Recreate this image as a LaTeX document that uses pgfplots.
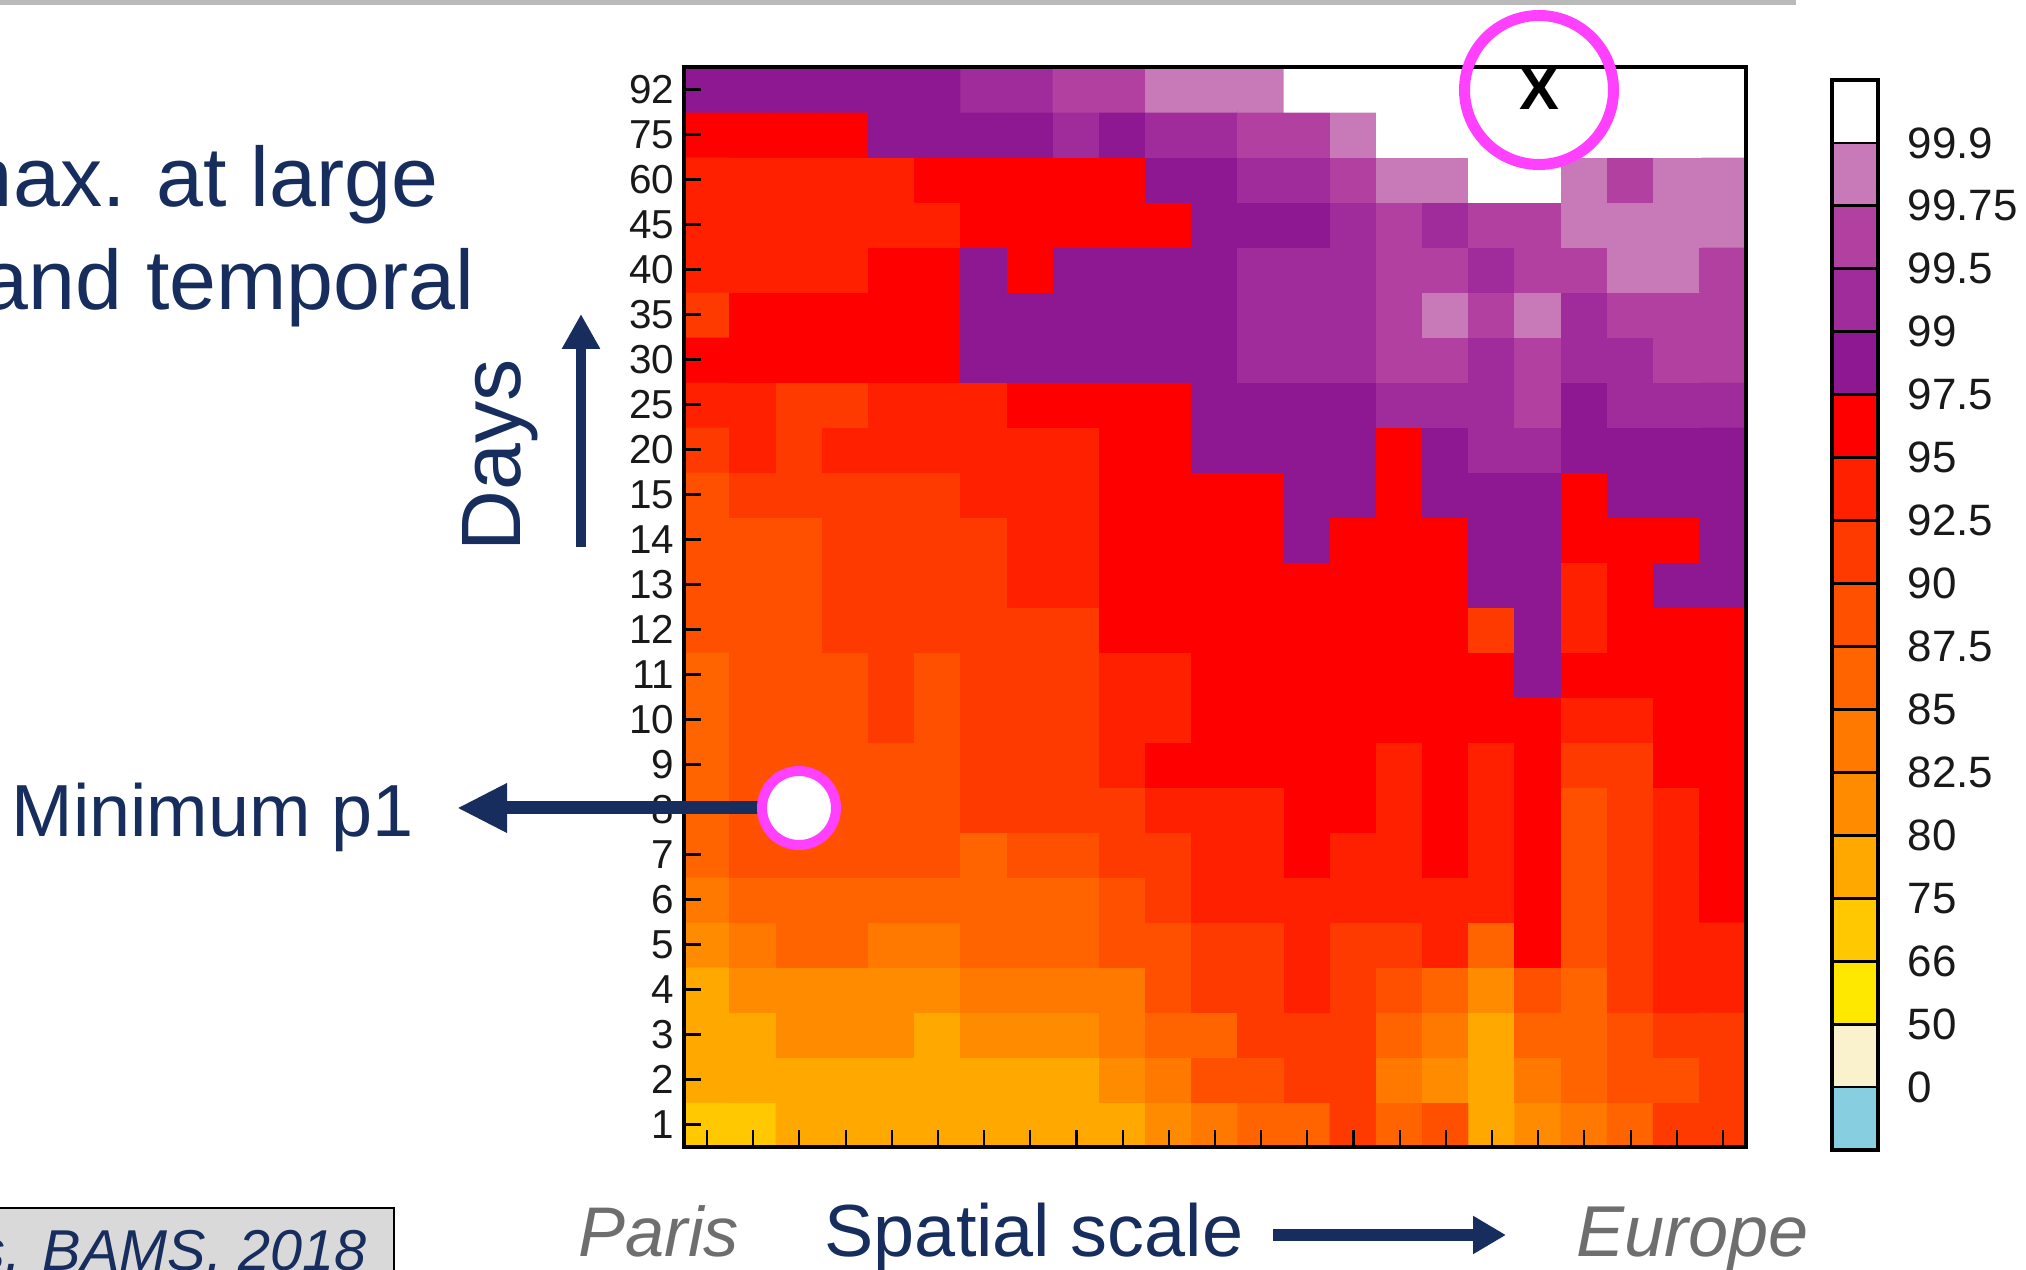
\documentclass[border=0pt]{standalone}
\usepackage{fontspec}
\setmainfont{Liberation Sans}
\usepackage{pgfplots}
\usepackage{pgfplotstable}
\pgfplotsset{compat=1.18}
\usetikzlibrary{arrows.meta}
\definecolor{navy}{RGB}{22,45,94}
\definecolor{ring}{RGB}{255,64,255}
\definecolor{lbl}{RGB}{110,110,110}
\pgfplotsset{colormap={bins}{rgb255=(135,206,224) rgb255=(250,242,205) rgb255=(255,232,0) rgb255=(255,200,0) rgb255=(255,168,0) rgb255=(255,140,0) rgb255=(255,120,0) rgb255=(255,100,0) rgb255=(255,80,0) rgb255=(255,58,0) rgb255=(255,32,0) rgb255=(255,0,0) rgb255=(142,24,146) rgb255=(160,44,156) rgb255=(178,64,160) rgb255=(200,122,184) rgb255=(255,255,255)}}

\pgfplotstableread[row sep=\\]{
x y c\\
0 0 3\\ 1 0 3\\ 2 0 4\\ 3 0 4\\ 4 0 4\\ 5 0 4\\ 6 0 4\\ 7 0 4\\ 8 0 4\\ 9 0 4\\ 10 0 5\\ 11 0 6\\ 12 0 7\\ 13 0 7\\ 14 0 9\\ 15 0 7\\ 16 0 8\\ 17 0 4\\ 18 0 5\\ 19 0 6\\ 20 0 7\\ 21 0 9\\ 22 0 9\\
0 1 4\\ 1 1 4\\ 2 1 4\\ 3 1 4\\ 4 1 4\\ 5 1 4\\ 6 1 4\\ 7 1 4\\ 8 1 4\\ 9 1 5\\ 10 1 6\\ 11 1 8\\ 12 1 8\\ 13 1 9\\ 14 1 9\\ 15 1 6\\ 16 1 5\\ 17 1 4\\ 18 1 6\\ 19 1 7\\ 20 1 8\\ 21 1 8\\ 22 1 9\\
0 2 4\\ 1 2 4\\ 2 2 5\\ 3 2 5\\ 4 2 5\\ 5 2 4\\ 6 2 5\\ 7 2 5\\ 8 2 5\\ 9 2 6\\ 10 2 7\\ 11 2 7\\ 12 2 9\\ 13 2 9\\ 14 2 9\\ 15 2 7\\ 16 2 6\\ 17 2 4\\ 18 2 7\\ 19 2 7\\ 20 2 8\\ 21 2 9\\ 22 2 9\\
0 3 4\\ 1 3 5\\ 2 3 5\\ 3 3 5\\ 4 3 5\\ 5 3 5\\ 6 3 6\\ 7 3 6\\ 8 3 6\\ 9 3 6\\ 10 3 8\\ 11 3 9\\ 12 3 9\\ 13 3 10\\ 14 3 9\\ 15 3 8\\ 16 3 7\\ 17 3 5\\ 18 3 8\\ 19 3 7\\ 20 3 9\\ 21 3 10\\ 22 3 10\\
0 4 5\\ 1 4 6\\ 2 4 7\\ 3 4 7\\ 4 4 6\\ 5 4 6\\ 6 4 7\\ 7 4 7\\ 8 4 7\\ 9 4 8\\ 10 4 8\\ 11 4 9\\ 12 4 9\\ 13 4 10\\ 14 4 9\\ 15 4 9\\ 16 4 10\\ 17 4 7\\ 18 4 11\\ 19 4 8\\ 20 4 9\\ 21 4 10\\ 22 4 10\\
0 5 6\\ 1 5 7\\ 2 5 7\\ 3 5 7\\ 4 5 7\\ 5 5 7\\ 6 5 7\\ 7 5 7\\ 8 5 7\\ 9 5 8\\ 10 5 9\\ 11 5 10\\ 12 5 10\\ 13 5 10\\ 14 5 10\\ 15 5 10\\ 16 5 10\\ 17 5 10\\ 18 5 11\\ 19 5 8\\ 20 5 9\\ 21 5 10\\ 22 5 11\\
0 6 7\\ 1 6 8\\ 2 6 8\\ 3 6 8\\ 4 6 8\\ 5 6 8\\ 6 6 7\\ 7 6 8\\ 8 6 8\\ 9 6 9\\ 10 6 9\\ 11 6 10\\ 12 6 10\\ 13 6 11\\ 14 6 10\\ 15 6 10\\ 16 6 11\\ 17 6 10\\ 18 6 11\\ 19 6 8\\ 20 6 9\\ 21 6 10\\ 22 6 11\\
0 7 7\\ 1 7 8\\ 2 7 8\\ 3 7 8\\ 4 7 8\\ 5 7 8\\ 6 7 9\\ 7 7 9\\ 8 7 9\\ 9 7 9\\ 10 7 10\\ 11 7 10\\ 12 7 10\\ 13 7 11\\ 14 7 11\\ 15 7 10\\ 16 7 11\\ 17 7 10\\ 18 7 11\\ 19 7 8\\ 20 7 9\\ 21 7 10\\ 22 7 11\\
0 8 7\\ 1 8 8\\ 2 8 8\\ 3 8 8\\ 4 8 8\\ 5 8 8\\ 6 8 9\\ 7 8 9\\ 8 8 9\\ 9 8 10\\ 10 8 11\\ 11 8 11\\ 12 8 11\\ 13 8 11\\ 14 8 11\\ 15 8 10\\ 16 8 11\\ 17 8 10\\ 18 8 11\\ 19 8 9\\ 20 8 9\\ 21 8 11\\ 22 8 11\\
0 9 7\\ 1 9 8\\ 2 9 8\\ 3 9 8\\ 4 9 9\\ 5 9 8\\ 6 9 9\\ 7 9 9\\ 8 9 9\\ 9 9 10\\ 10 9 10\\ 11 9 11\\ 12 9 11\\ 13 9 11\\ 14 9 11\\ 15 9 11\\ 16 9 11\\ 17 9 11\\ 18 9 11\\ 19 9 10\\ 20 9 10\\ 21 9 11\\ 22 9 11\\
0 10 7\\ 1 10 8\\ 2 10 8\\ 3 10 8\\ 4 10 9\\ 5 10 8\\ 6 10 9\\ 7 10 9\\ 8 10 9\\ 9 10 10\\ 10 10 10\\ 11 10 11\\ 12 10 11\\ 13 10 11\\ 14 10 11\\ 15 10 11\\ 16 10 11\\ 17 10 11\\ 18 10 12\\ 19 10 11\\ 20 10 11\\ 21 10 11\\ 22 10 11\\
0 11 8\\ 1 11 8\\ 2 11 8\\ 3 11 9\\ 4 11 9\\ 5 11 9\\ 6 11 9\\ 7 11 9\\ 8 11 9\\ 9 11 11\\ 10 11 11\\ 11 11 11\\ 12 11 11\\ 13 11 11\\ 14 11 11\\ 15 11 11\\ 16 11 11\\ 17 11 9\\ 18 11 12\\ 19 11 10\\ 20 11 11\\ 21 11 11\\ 22 11 11\\
0 12 8\\ 1 12 8\\ 2 12 8\\ 3 12 9\\ 4 12 9\\ 5 12 9\\ 6 12 9\\ 7 12 10\\ 8 12 10\\ 9 12 11\\ 10 12 11\\ 11 12 11\\ 12 12 11\\ 13 12 11\\ 14 12 11\\ 15 12 11\\ 16 12 11\\ 17 12 12\\ 18 12 12\\ 19 12 10\\ 20 12 11\\ 21 12 12\\ 22 12 12\\
0 13 8\\ 1 13 8\\ 2 13 8\\ 3 13 9\\ 4 13 9\\ 5 13 9\\ 6 13 9\\ 7 13 10\\ 8 13 10\\ 9 13 11\\ 10 13 11\\ 11 13 11\\ 12 13 11\\ 13 13 12\\ 14 13 11\\ 15 13 11\\ 16 13 11\\ 17 13 12\\ 18 13 12\\ 19 13 11\\ 20 13 11\\ 21 13 11\\ 22 13 12\\
0 14 8\\ 1 14 9\\ 2 14 9\\ 3 14 9\\ 4 14 9\\ 5 14 9\\ 6 14 10\\ 7 14 10\\ 8 14 10\\ 9 14 11\\ 10 14 11\\ 11 14 11\\ 12 14 11\\ 13 14 12\\ 14 14 12\\ 15 14 11\\ 16 14 12\\ 17 14 12\\ 18 14 12\\ 19 14 11\\ 20 14 12\\ 21 14 12\\ 22 14 12\\
0 15 9\\ 1 15 10\\ 2 15 9\\ 3 15 10\\ 4 15 10\\ 5 15 10\\ 6 15 10\\ 7 15 10\\ 8 15 10\\ 9 15 11\\ 10 15 11\\ 11 15 12\\ 12 15 12\\ 13 15 12\\ 14 15 12\\ 15 15 11\\ 16 15 12\\ 17 15 13\\ 18 15 13\\ 19 15 12\\ 20 15 12\\ 21 15 12\\ 22 15 12\\
0 16 10\\ 1 16 10\\ 2 16 9\\ 3 16 9\\ 4 16 10\\ 5 16 10\\ 6 16 10\\ 7 16 11\\ 8 16 11\\ 9 16 11\\ 10 16 11\\ 11 16 12\\ 12 16 12\\ 13 16 12\\ 14 16 12\\ 15 16 13\\ 16 16 13\\ 17 16 13\\ 18 16 14\\ 19 16 12\\ 20 16 13\\ 21 16 13\\ 22 16 13\\
0 17 11\\ 1 17 11\\ 2 17 11\\ 3 17 11\\ 4 17 11\\ 5 17 11\\ 6 17 12\\ 7 17 12\\ 8 17 12\\ 9 17 12\\ 10 17 12\\ 11 17 12\\ 12 17 13\\ 13 17 13\\ 14 17 13\\ 15 17 14\\ 16 17 14\\ 17 17 13\\ 18 17 14\\ 19 17 13\\ 20 17 13\\ 21 17 14\\ 22 17 14\\
0 18 9\\ 1 18 11\\ 2 18 11\\ 3 18 11\\ 4 18 11\\ 5 18 11\\ 6 18 12\\ 7 18 12\\ 8 18 12\\ 9 18 12\\ 10 18 12\\ 11 18 12\\ 12 18 13\\ 13 18 13\\ 14 18 13\\ 15 18 14\\ 16 18 15\\ 17 18 14\\ 18 18 15\\ 19 18 13\\ 20 18 14\\ 21 18 14\\ 22 18 14\\
0 19 10\\ 1 19 10\\ 2 19 10\\ 3 19 10\\ 4 19 11\\ 5 19 11\\ 6 19 12\\ 7 19 11\\ 8 19 12\\ 9 19 12\\ 10 19 12\\ 11 19 12\\ 12 19 13\\ 13 19 13\\ 14 19 13\\ 15 19 14\\ 16 19 14\\ 17 19 13\\ 18 19 14\\ 19 19 14\\ 20 19 15\\ 21 19 15\\ 22 19 14\\
0 20 10\\ 1 20 10\\ 2 20 10\\ 3 20 10\\ 4 20 10\\ 5 20 10\\ 6 20 11\\ 7 20 11\\ 8 20 11\\ 9 20 11\\ 10 20 11\\ 11 20 12\\ 12 20 12\\ 13 20 12\\ 14 20 13\\ 15 20 14\\ 16 20 13\\ 17 20 14\\ 18 20 14\\ 19 20 15\\ 20 20 15\\ 21 20 15\\ 22 20 15\\
0 21 10\\ 1 21 10\\ 2 21 10\\ 3 21 10\\ 4 21 10\\ 5 21 11\\ 6 21 11\\ 7 21 11\\ 8 21 11\\ 9 21 11\\ 10 21 12\\ 11 21 12\\ 12 21 13\\ 13 21 13\\ 14 21 14\\ 15 21 15\\ 16 21 15\\ 17 21 16\\ 18 21 16\\ 19 21 15\\ 20 21 14\\ 21 21 15\\ 22 21 15\\
0 22 11\\ 1 22 11\\ 2 22 11\\ 3 22 11\\ 4 22 12\\ 5 22 12\\ 6 22 12\\ 7 22 12\\ 8 22 13\\ 9 22 12\\ 10 22 13\\ 11 22 13\\ 12 22 14\\ 13 22 14\\ 14 22 15\\ 15 22 16\\ 16 22 16\\ 17 22 16\\ 18 22 16\\ 19 22 16\\ 20 22 16\\ 21 22 16\\ 22 22 16\\
0 23 12\\ 1 23 12\\ 2 23 12\\ 3 23 12\\ 4 23 12\\ 5 23 12\\ 6 23 13\\ 7 23 13\\ 8 23 14\\ 9 23 14\\ 10 23 15\\ 11 23 15\\ 12 23 15\\ 13 23 16\\ 14 23 16\\ 15 23 16\\ 16 23 16\\ 17 23 16\\ 18 23 16\\ 19 23 16\\ 20 23 16\\ 21 23 16\\ 22 23 16\\
}\heat

\pgfplotstableread[row sep=\\]{
x y c\\
0 0 0\\ 1 0 0\\ 0 1 1\\ 1 1 1\\ 0 2 2\\ 1 2 2\\ 0 3 3\\ 1 3 3\\ 0 4 4\\ 1 4 4\\ 0 5 5\\ 1 5 5\\ 0 6 6\\ 1 6 6\\ 0 7 7\\ 1 7 7\\ 0 8 8\\ 1 8 8\\ 0 9 9\\ 1 9 9\\ 0 10 10\\ 1 10 10\\ 0 11 11\\ 1 11 11\\ 0 12 12\\ 1 12 12\\ 0 13 13\\ 1 13 13\\ 0 14 14\\ 1 14 14\\ 0 15 15\\ 1 15 15\\ 0 16 16\\ 1 16 16\\
}\cbar

\begin{document}
\begin{tikzpicture}
\useasboundingbox (0,0) rectangle (20.26,12.70);
\fill[black!27] (0,12.65) rectangle (17.96,12.70);

\begin{axis}[
  at={(6.84cm,1.23cm)}, anchor=south west,
  width=10.62cm, height=10.80cm, scale only axis,
  xmin=-0.5, xmax=22.5, ymin=-0.5, ymax=23.5,
  y dir=normal,
  colormap name=bins, colormap access=direct,
  xtick={0,...,22}, xticklabels={},
  ytick={0,...,23},
  yticklabels={1,2,3,4,5,6,7,8,9,10,11,12,13,14,15,20,25,30,35,40,45,60,75,92},
  tick align=inside, major tick length=0.17cm,
  tick pos=left,
  tick style={black, line width=0.6pt},
  axis line style={black, line width=1pt},
  yticklabel style={font=\fontsize{11.5}{12}\selectfont, inner xsep=0.09cm, text=black!90},
  axis on top,
]
\addplot[matrix plot*, mesh/cols=23, point meta=explicit] table[meta=c]{\heat};
\end{axis}

\begin{axis}[
  at={(18.32cm,1.20cm)}, anchor=south west,
  width=0.46cm, height=10.70cm, scale only axis,
  xmin=-0.5, xmax=1.5, ymin=-0.5, ymax=16.5,
  y dir=normal,
  colormap name=bins, colormap access=direct,
  xtick=\empty,
  ytick={0.5,1.5,...,15.5},
  yticklabels={0,50,66,75,80,82.5,85,87.5,90,92.5,95,97.5,99,99.5,99.75,99.9},
  yticklabel pos=right,
  major tick length=0pt,
  ymajorgrids, grid style={black, line width=0.8pt},
  axis line style={black, line width=1pt},
  yticklabel style={font=\fontsize{12.5}{13}\selectfont, inner xsep=0.29cm, text=black!90},
  axis on top,
]
\addplot[matrix plot*, mesh/cols=2, point meta=explicit] table[meta=c]{\cbar};
\end{axis}

\node[anchor=base east, inner sep=0pt, text=navy, font=\fontsize{24}{28}\selectfont] at (4.39,10.63) {max. at large};
\node[anchor=base east, inner sep=0pt, text=navy, font=\fontsize{24}{28}\selectfont] at (4.75,9.60) {and temporal};
\node[rotate=90, anchor=base, inner sep=0pt, text=navy, font=\fontsize{24}{28}\selectfont] at (5.20,8.15) {Days};
\draw[navy, line width=0.10cm, -{Triangle[width=0.36cm,length=0.35cm]}] (5.81,7.23) -- (5.81,9.56);

\draw[navy, line width=0.13cm, -{Triangle[width=0.46cm,length=0.50cm]}] (7.70,4.62) -- (4.57,4.62);
\draw[ring, line width=0.10cm, fill=white] (7.99,4.62) circle (0.37);
\node[anchor=base west, inner sep=0pt, text=navy, font=\fontsize{21}{25}\selectfont] at (0.11,4.33) {Minimum p1};

\draw[ring, line width=0.11cm] (15.39,11.80) circle (0.745);
\node[inner sep=0pt, font=\fontsize{17}{20}\selectfont\bfseries] at (15.39,11.81) {X};

\fill[black!15] (-0.1,-0.2) rectangle (3.94,0.62);
\draw[black, line width=0.8pt] (-0.1,-0.2) rectangle (3.94,0.62);
\node[anchor=base east, inner sep=0pt, text=navy, font=\fontsize{16.4}{19}\selectfont\itshape] at (3.67,-0.01) {s. BAMS, 2018};
\node[anchor=base west, inner sep=0pt, text=lbl, font=\fontsize{20}{24}\selectfont\itshape] at (5.78,0.13) {Paris};
\node[anchor=base west, inner sep=0pt, text=navy, font=\fontsize{21}{25}\selectfont] at (8.24,0.13) {Spatial scale};
\draw[navy, line width=0.12cm, -{Triangle[width=0.36cm,length=0.33cm]}] (12.73,0.35) -- (15.06,0.35);
\node[anchor=base west, inner sep=0pt, text=lbl, font=\fontsize{20.5}{24}\selectfont\itshape] at (15.76,0.13) {Europe};
\end{tikzpicture}
\end{document}
